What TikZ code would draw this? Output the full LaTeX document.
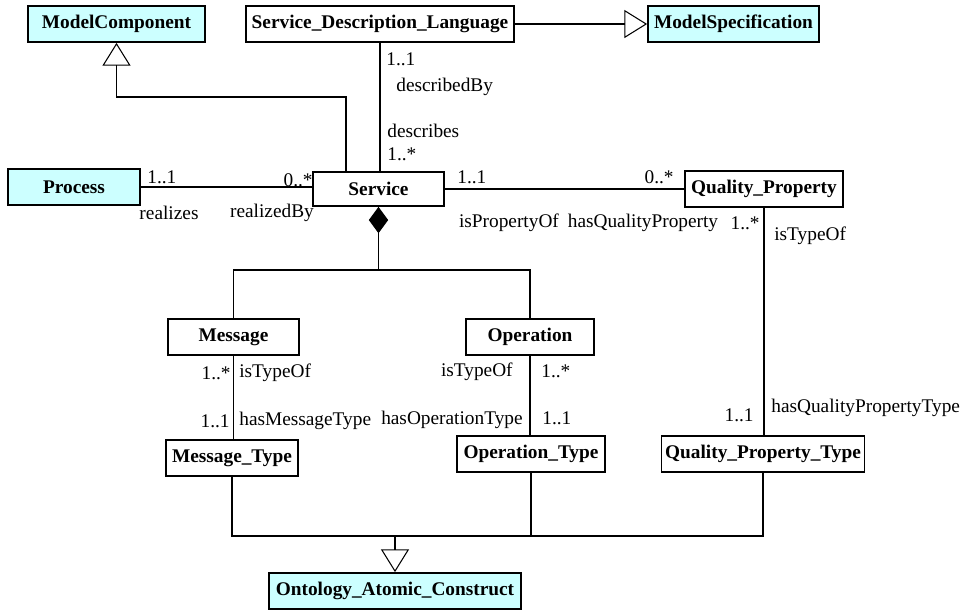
\documentclass[tikz,border=0pt]{standalone}
\usepackage{fontspec}
\setmainfont{Liberation Serif}
\usetikzlibrary{arrows.meta}
\definecolor{umlcyan}{RGB}{204,255,255}
\begin{document}
\begin{tikzpicture}[x=0.02cm, y=-0.02cm,
  cls/.style={draw, line width=1pt, minimum height=0.72cm, inner sep=0pt, font=\fontsize{11}{13}\selectfont\bfseries},
  base/.style={cls, fill=umlcyan},
  lbl/.style={inner sep=0pt, font=\fontsize{11}{13}\selectfont},
  line/.style={line width=0.6pt},
  gen/.style={line, -{Triangle[open, length=13pt, width=16pt]}},
  comp/.style={line, {Diamond[length=15pt, width=11pt]}-}]
\useasboundingbox (0,0) rectangle (971,609);
% classes
\node[base, minimum width=3.54cm] (mc) at (116.5,24) {ModelComponent};
\node[cls, minimum width=5.36cm] (sdl) at (380,24) {Service\_Description\_Language};
\node[base, minimum width=3.42cm] (ms) at (733.5,24) {ModelSpecification};
\node[base, minimum width=2.64cm] (proc) at (74,187) {Process};
\node[cls, minimum width=2.62cm, minimum height=0.68cm] (svc) at (378.5,189) {Service};
\node[cls, minimum width=3.16cm] (qp) at (764,189) {Quality\_Property};
\node[cls, minimum width=2.62cm] (msg) at (233.5,337) {Message};
\node[cls, minimum width=2.56cm] (op) at (530,337) {Operation};
\node[cls, minimum width=2.64cm] (mt) at (232,458) {Message\_Type};
\node[cls, minimum width=2.96cm] (ot) at (531,454) {Operation\_Type};
\node[cls, minimum width=4.06cm] (qpt) at (763,454) {Quality\_Property\_Type};
\node[base, minimum width=5.04cm] (oac) at (395,591) {Ontology\_Atomic\_Construct};
% joints
\coordinate (gj) at (346,97);
\coordinate (cj) at (379,270);
\coordinate (bj) at (395,536);
% generalizations
\draw[gen] (gj |- svc.north) -- (gj) -- (gj -| mc.south) -- (mc.south);
\draw[gen] (sdl) -- (ms);
\draw[line] (mt.south) -- (mt.south |- bj) -- (qpt.south |- bj) -- (qpt.south);
\draw[line] (ot.south) -- (ot.south |- bj);
\draw[gen] (bj) -- (oac.north);
% associations
\draw[line] (sdl) -- (sdl |- svc.north);
\draw[line] (proc) -- (proc -| svc.west);
\draw[line] (svc) -- (qp);
\draw[line] (msg.south) -- (msg.south |- mt.north);
\draw[line] (op.south) -- (op.south |- ot.north);
\draw[line] (qp.south) -- (qp.south |- qpt.north);
% composition
\draw[comp] (svc.south) -- (svc.south |- cj);
\draw[line] (msg.north) -- (msg.north |- cj) -- (op.north |- cj) -- (op.north);
% roles and multiplicities
\node[lbl, anchor=west] (l1) at (386,59) {1..1};
\node[lbl, anchor=west] (l2) at (396,87) {describedBy};
\node[lbl, anchor=west] (l3) at (387,131) {describes};
\node[lbl, anchor=west] (l4) at (387,154) {1..*};
\node[lbl, anchor=west] (l5) at (147,177) {1..1};
\node[lbl, anchor=east] (l6) at (313,180) {0..*};
\node[lbl] (l7) at (169,213) {realizes};
\node[lbl] (l8) at (272,213) {realizedBy};
\node[lbl, anchor=west] (l9) at (457,177) {1..1};
\node[lbl, anchor=east] (l10) at (674,177) {0..*};
\node[lbl] (l11) at (509,223) {isPropertyOf};
\node[lbl] (l12) at (643,223) {hasQualityProperty};
\node[lbl, anchor=east] (l13) at (760,223) {1..*};
\node[lbl, anchor=west] (l14) at (774,236) {isTypeOf};
\node[lbl, anchor=east] (l15) at (231,373) {1..*};
\node[lbl, anchor=west] (l16) at (239,373) {isTypeOf};
\node[lbl, anchor=east] (l17) at (230,421) {1..1};
\node[lbl, anchor=west] (l18) at (239,421) {hasMessageType};
\node[lbl, anchor=east] (l19) at (523,420) {hasOperationType};
\node[lbl, anchor=east] (l20) at (513,372) {isTypeOf};
\node[lbl, anchor=west] (l21) at (541,371) {1..*};
\node[lbl, anchor=west] (l22) at (542,418) {1..1};
\node[lbl, anchor=east] (l23) at (754,415) {1..1};
\node[lbl, anchor=west] (l24) at (771,408) {hasQualityPropertyType};
\end{tikzpicture}
\end{document}
